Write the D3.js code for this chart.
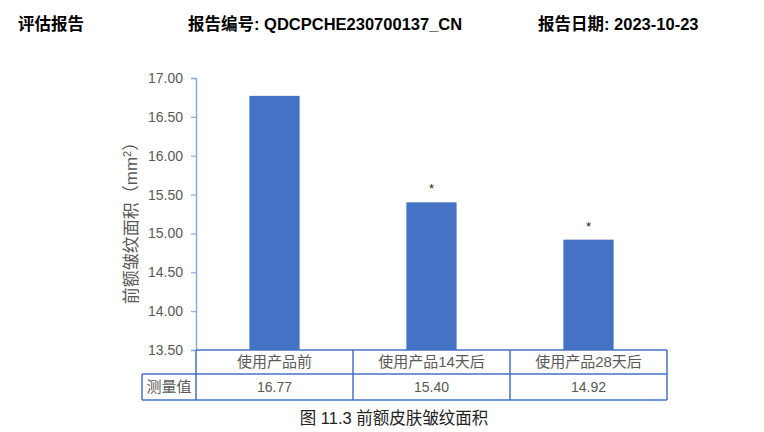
<!DOCTYPE html>
<html>
<head>
<meta charset="utf-8">
<script src="https://cdn.jsdelivr.net/npm/d3@7"></script>
<style>
  body { margin: 0; background: #fff; }
  svg text { font-family: "Liberation Sans", Arial, "Noto Sans CJK SC", sans-serif; }
</style>
</head>
<body>
<div id="chart"></div>
<script>
// chart values
const categories = ["使用产品前", "使用产品14天后", "使用产品28天后"];
const values = [16.77, 15.40, 14.92];
const valueLabels = ["16.77", "15.40", "14.92"];
const significant = [false, true, true];
const yTicks = [13.5, 14.0, 14.5, 15.0, 15.5, 16.0, 16.5, 17.0];

const W = 764, H = 432;
const blue = "#4472c4";
const axisBlue = "#8eaadb";
const gray = "#595959";

let svg = d3.select("#chart")
    .append("svg")
    .attr("width", W)
    .attr("height", H);

// header line
const header = [
    { t: "评估报告", x: 18 },
    { t: "报告编号: QDCPCHE230700137_CN", x: 188 },
    { t: "报告日期: 2023-10-23", x: 538 }
];
svg.selectAll(".hdr")
    .data(header)
    .enter()
    .append("text")
    .attr("class", "hdr")
    .attr("x", d => d.x)
    .attr("y", 30)
    .attr("font-size", 16.5)
    .attr("font-weight", "bold")
    .attr("fill", "#000")
    .text(d => d.t);

// scales
let x = d3.scaleBand()
    .domain(categories)
    .range([196, 667])
    .paddingInner(0);

let y = d3.scaleLinear()
    .domain([13.5, 17])
    .range([350, 78]);

const rowH1 = 24, rowH2 = 26;
const tableTop = y(13.5);

// y axis
let yAxis = svg.append("g")
    .attr("transform", "translate(196,0)")
    .call(d3.axisLeft(y)
        .tickValues(yTicks)
        .tickFormat(d3.format(".2f"))
        .tickSize(5)
        .tickPadding(8));
yAxis.select(".domain").attr("stroke", axisBlue).attr("stroke-width", 1.5);
yAxis.selectAll(".tick line").attr("stroke", axisBlue).attr("stroke-width", 1.2);
yAxis.selectAll(".tick text")
    .attr("fill", gray)
    .attr("font-size", 14)
    .attr("font-family", "'Liberation Sans', Arial, sans-serif");

// y axis title
svg.append("text")
    .attr("transform", "translate(137," + 219 + ") rotate(-90)")
    .attr("text-anchor", "middle")
    .attr("fill", gray)
    .attr("font-size", 17)
    .attr("font-family", "'Noto Sans CJK SC', sans-serif")
    .html("前额皱纹面积（mm<tspan dy='-6' font-size='11'>2</tspan><tspan dy='6'>）</tspan>");

// bars
const barW = x.bandwidth() * 0.32;
svg.append("g")
    .selectAll("rect")
    .data(values)
    .enter()
    .append("rect")
    .attr("x", (d, i) => x(categories[i]) + (x.bandwidth() - barW) / 2)
    .attr("y", d => y(d))
    .attr("width", barW)
    .attr("height", d => y(13.5) - y(d))
    .attr("fill", blue);

// significance stars
svg.append("g")
    .selectAll("text")
    .data(values.map((v, i) => ({ v: v, i: i })).filter(d => significant[d.i]))
    .enter()
    .append("text")
    .attr("x", d => x(categories[d.i]) + x.bandwidth() / 2)
    .attr("y", d => y(d.v) - 9)
    .attr("text-anchor", "middle")
    .attr("font-size", 13)
    .attr("fill", "#222")
    .text("*");

// data table under the plot
let table = svg.append("g");
const legendLeft = 142;

// category row
table.selectAll(".cat")
    .data(categories)
    .enter()
    .append("text")
    .attr("class", "cat")
    .attr("x", d => x(d) + x.bandwidth() / 2)
    .attr("y", tableTop + rowH1 / 2 + 5)
    .attr("text-anchor", "middle")
    .attr("fill", gray)
    .attr("font-size", 15)
    .text(d => d);

// value row
table.selectAll(".val")
    .data(valueLabels)
    .enter()
    .append("text")
    .attr("class", "val")
    .attr("x", (d, i) => x(categories[i]) + x.bandwidth() / 2)
    .attr("y", tableTop + rowH1 + rowH2 / 2 + 5)
    .attr("text-anchor", "middle")
    .attr("fill", gray)
    .attr("font-size", 14)
    .text(d => d);

table.append("text")
    .attr("x", (legendLeft + 196) / 2)
    .attr("y", tableTop + rowH1 + rowH2 / 2 + 5)
    .attr("text-anchor", "middle")
    .attr("fill", gray)
    .attr("font-size", 15)
    .text("测量值");

// table grid lines
const bottom = tableTop + rowH1 + rowH2;
const lines = [
    [196, tableTop, 667, tableTop],
    [legendLeft, tableTop + rowH1, 667, tableTop + rowH1],
    [legendLeft, bottom, 667, bottom],
    [legendLeft, tableTop + rowH1, legendLeft, bottom],
    [196, tableTop, 196, bottom],
    [x(categories[1]), tableTop, x(categories[1]), bottom],
    [x(categories[2]), tableTop, x(categories[2]), bottom],
    [667, tableTop, 667, bottom]
];
table.selectAll("line")
    .data(lines)
    .enter()
    .append("line")
    .attr("x1", d => d[0])
    .attr("y1", d => d[1])
    .attr("x2", d => d[2])
    .attr("y2", d => d[3])
    .attr("stroke", blue)
    .attr("stroke-width", 1.5);

// caption
svg.append("text")
    .attr("x", 394)
    .attr("y", 424)
    .attr("text-anchor", "middle")
    .attr("font-size", 16.5)
    .attr("fill", "#222")
    .text("图 11.3 前额皮肤皱纹面积");
</script>
</body>
</html>
